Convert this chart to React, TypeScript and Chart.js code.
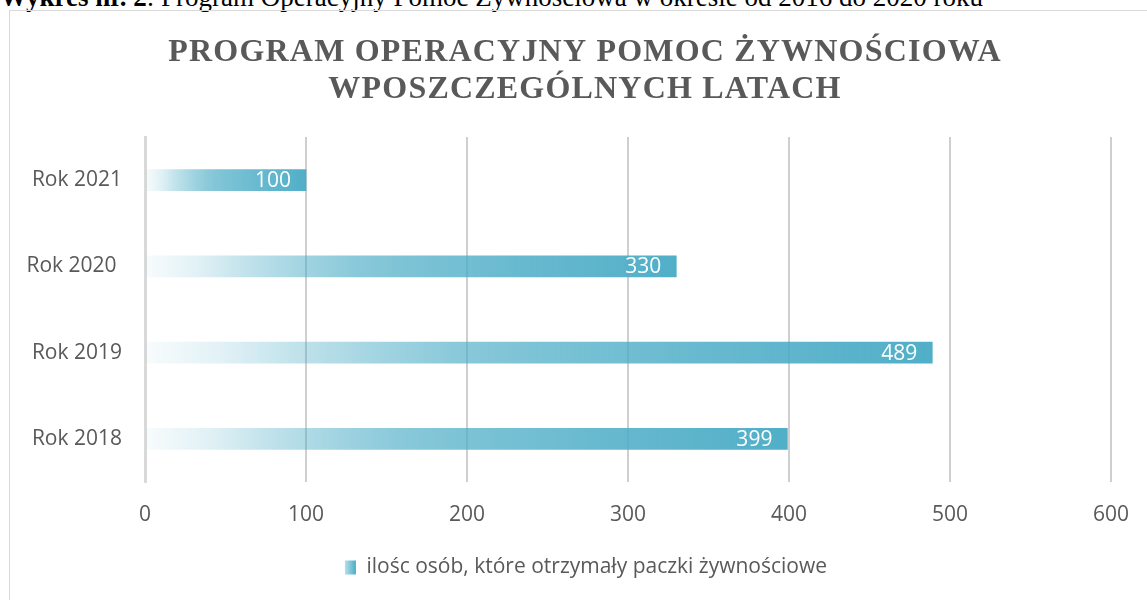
import React, { useEffect, useRef } from 'react';
import { Chart, registerables } from 'chart.js';

Chart.register(...registerables);

// ---- data ----
const captionBold = 'Wykres nr. 2';
const captionRest = ': Program Operacyjny Pomoc Żywnościowa w okresie od 2016 do 2020 roku';
const titleLines = ['PROGRAM OPERACYJNY POMOC ŻYWNOŚCIOWA', 'WPOSZCZEGÓLNYCH LATACH'];
const categories = ['Rok 2018', 'Rok 2019', 'Rok 2020 ', 'Rok 2021'];
const values = [399, 489, 330, 100];
const seriesName = 'ilośc osób, które otrzymały paczki żywnościowe';
const xMin = 0;
const xMax = 600;
const xStep = 100;

// ---- styles ----
const FONT = '"Open Sans", "Noto Sans", sans-serif';
const SERIF = '"Liberation Serif", "Times New Roman", serif';
const TEXT = '#595959';
const TEAL = '75,172,198';
const FS = 21;
const AREA_LEFT = 145;
const AREA_RIGHT = 1111;
const CANVAS_W = 1174;
const LEGEND_CENTER = 586;
const gradStops: [number, number][] = [
  [0, 0.04], [0.1, 0.17], [0.2, 0.36], [0.3, 0.52], [0.4, 0.66],
  [0.5, 0.73], [0.6, 0.78], [0.7, 0.84], [0.83, 0.89], [1, 0.97],
];

function barGradient(c: any) {
  const chart = c.chart;
  const { chartArea, scales } = chart;
  if (c.type !== 'data' || !chartArea || !scales.x) return `rgba(${TEAL},0.8)`;
  const x0 = scales.x.getPixelForValue(0);
  const x1 = scales.x.getPixelForValue(c.raw);
  if (!isFinite(x0) || !isFinite(x1) || x1 === x0) return `rgba(${TEAL},0.8)`;
  const g = chart.ctx.createLinearGradient(x0, 0, x1, 0);
  gradStops.forEach(([p, a]) => g.addColorStop(p, `rgba(${TEAL},${a})`));
  return g;
}

const titlePlugin = {
  id: 'customTitle',
  afterDraw(chart: any) {
    const ctx = chart.ctx;
    ctx.save();
    ctx.font = `bold 32px ${SERIF}`;
    (ctx as any).letterSpacing = '1.2px';
    ctx.fillStyle = TEXT;
    ctx.textAlign = 'center';
    ctx.textBaseline = 'alphabetic';
    titleLines.forEach((l, i) => ctx.fillText(l, 585, 61 + i * 37));
    ctx.restore();
  },
};

const legendShift = {
  id: 'legendShift',
  afterLayout(chart: any) {
    const lg = chart.legend;
    if (!lg) return;
    const d = LEGEND_CENTER - (lg.left + lg.right) / 2;
    lg.left += d;
    lg.right += d;
  },
};

const valueLabels = {
  id: 'valueLabels',
  afterDatasetsDraw(chart: any) {
    const ctx = chart.ctx;
    const meta = chart.getDatasetMeta(0);
    ctx.save();
    ctx.font = `21px ${FONT}`;
    ctx.fillStyle = '#ffffff';
    ctx.textAlign = 'right';
    ctx.textBaseline = 'middle';
    meta.data.forEach((bar: any, i: number) => {
      const { x, y } = bar.getProps(['x', 'y'], true);
      ctx.fillText(String(chart.data.datasets[0].data[i]), x - 15, y + 1);
    });
    ctx.restore();
  },
};

export default function App() {
  const ref = useRef<HTMLCanvasElement | null>(null);

  useEffect(() => {
    if (!ref.current) return;
    const chart = new Chart(ref.current, {
      type: 'bar',
      data: {
        labels: categories,
        datasets: [
          {
            label: seriesName,
            data: values,
            backgroundColor: barGradient as any,
            borderWidth: 0,
            barThickness: 21,
          },
        ],
      },
      options: {
        indexAxis: 'y',
        responsive: false,
        animation: false,
        devicePixelRatio: 1,
        layout: { padding: { top: 137, right: CANVAS_W - AREA_RIGHT, bottom: 12, left: 0 } },
        scales: {
          x: {
            min: xMin,
            max: xMax,
            ticks: {
              stepSize: xStep,
              color: TEXT,
              font: { family: FONT, size: FS },
              padding: 20,
            },
            grid: {
              color: (c: any) => (c.tick && c.tick.value === 0 ? 'rgba(0,0,0,0)' : '#cfcfcf'),
              lineWidth: 2,
              drawTicks: false,
            },
            border: { display: false },
            afterFit: (s: any) => {
              s.height = 65;
            },
          },
          y: {
            reverse: true,
            ticks: {
              color: TEXT,
              font: { family: FONT, size: FS },
              padding: 23,
            },
            grid: { display: false, drawTicks: false },
            border: { display: true, color: '#d9d9d9', width: 3 },
            afterFit: (s: any) => {
              s.width = AREA_LEFT;
            },
          },
        },
        plugins: {
          title: { display: false },
          tooltip: { enabled: false },
          legend: {
            display: true,
            position: 'bottom',
            labels: {
              color: TEXT,
              font: { family: FONT, size: FS },
              boxWidth: 11,
              boxHeight: 14,
              padding: 10,
              generateLabels: (ch: any) => {
                const ctx = ch.ctx;
                ctx.save();
                ctx.font = `${FS}px ${FONT}`;
                const w = ctx.measureText(seriesName).width;
                ctx.restore();
                const itemW = 11 + FS / 2 + w;
                const bx = LEGEND_CENTER - itemW / 2;
                const g = ctx.createLinearGradient(bx, 0, bx + 11, 0);
                g.addColorStop(0, '#b5e0e8');
                g.addColorStop(1, '#4bacc6');
                return [
                  {
                    text: seriesName,
                    fillStyle: g,
                    strokeStyle: 'rgba(0,0,0,0)',
                    lineWidth: 0,
                    hidden: false,
                    datasetIndex: 0,
                    fontColor: TEXT,
                  },
                ];
              },
            },
          },
        },
      },
      plugins: [titlePlugin, legendShift, valueLabels],
    });
    return () => chart.destroy();
  }, []);

  return (
    <div
      style={{
        position: 'absolute',
        left: 0,
        top: 0,
        width: 1147,
        height: 600,
        overflow: 'hidden',
        background: '#ffffff',
      }}
    >
      <div
        style={{
          position: 'absolute',
          left: 0,
          top: -16,
          whiteSpace: 'nowrap',
          fontFamily: SERIF,
          fontSize: 27,
          lineHeight: '27px',
          color: '#000',
        }}
      >
        <b>{captionBold}</b>
        {captionRest}
      </div>
      <div
        style={{
          position: 'absolute',
          left: 9,
          top: 10,
          width: 1200,
          height: 700,
          border: '1px solid #d9d9d9',
        }}
      />
      <canvas
        ref={ref}
        width={CANVAS_W}
        height={600}
        style={{ position: 'absolute', left: 0, top: 0, width: CANVAS_W, height: 600 }}
      />
    </div>
  );
}
